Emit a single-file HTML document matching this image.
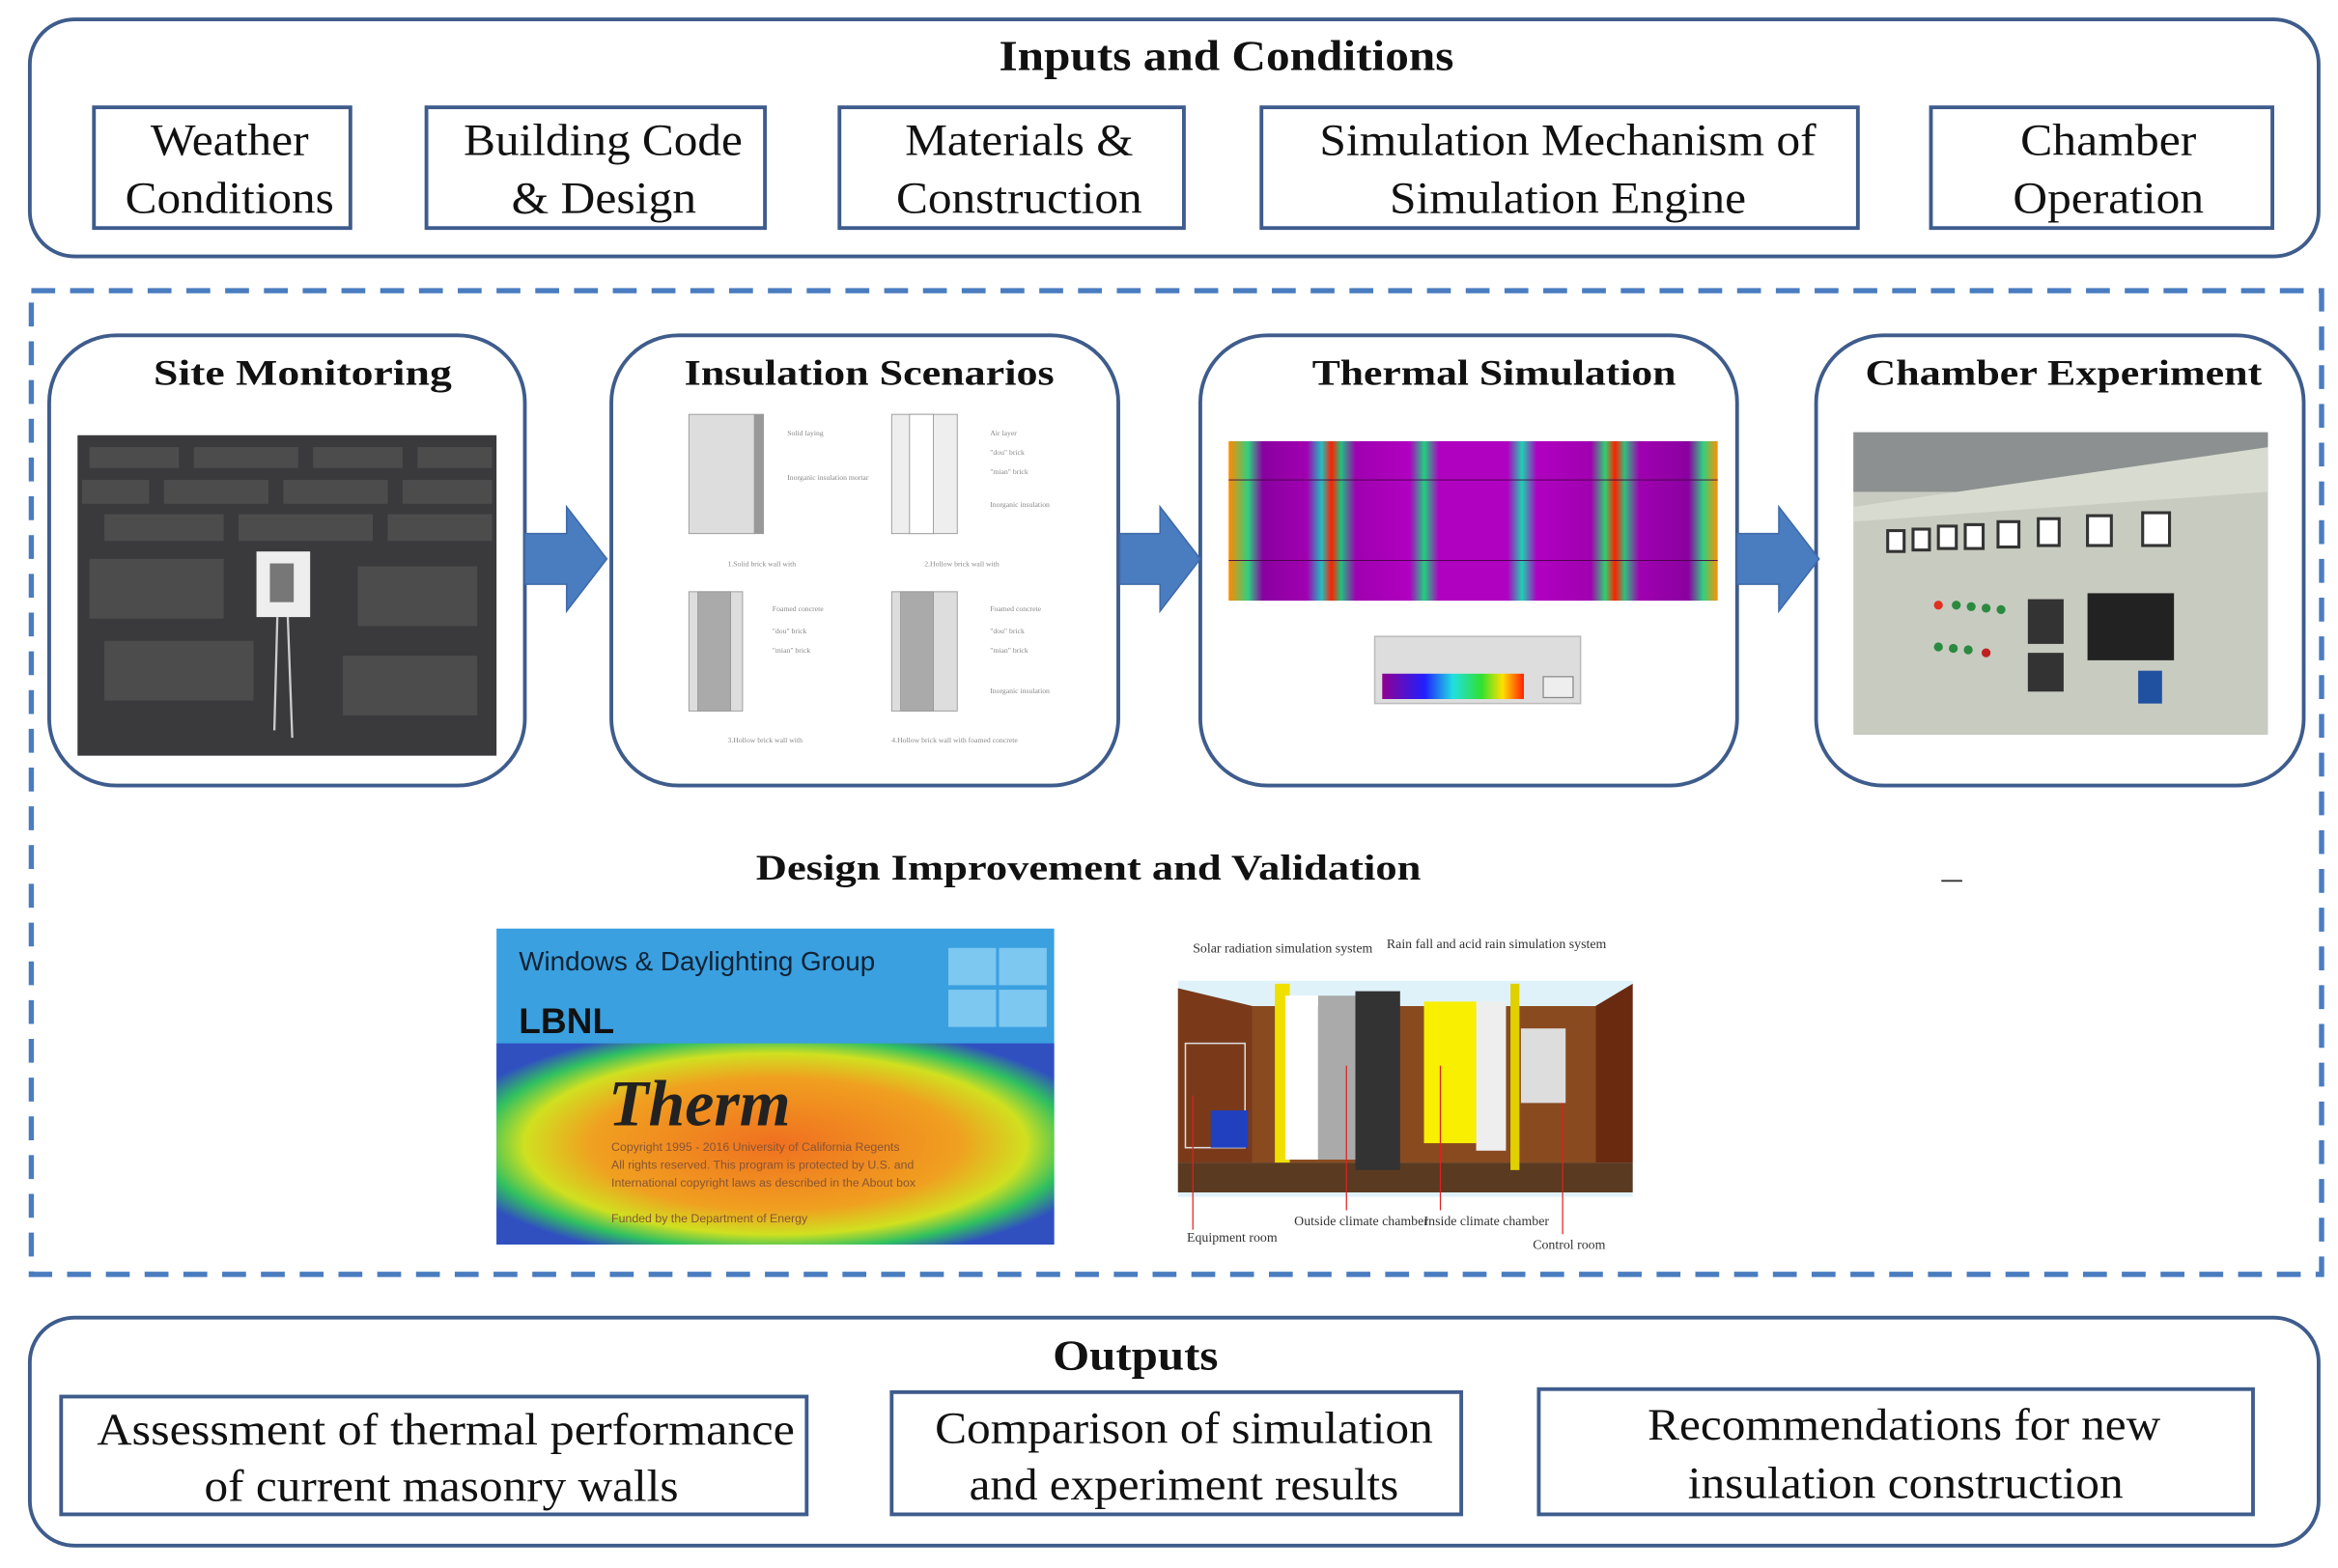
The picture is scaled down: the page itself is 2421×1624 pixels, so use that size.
<!DOCTYPE html>
<html><head><meta charset="utf-8"><style>
html,body{margin:0;padding:0;background:#fff;}
svg{display:block;}
.t{font-family:"Liberation Serif",serif;fill:#111;}
.b{font-weight:bold;}
</style></head><body>
<svg width="2421" height="1624" viewBox="0 0 1568 1052" preserveAspectRatio="none" xmlns="http://www.w3.org/2000/svg">
<defs>
<linearGradient id="th" x1="0" x2="1" y1="0" y2="0">
<stop offset="0" stop-color="#ff8a00"/><stop offset="0.04" stop-color="#30d080"/><stop offset="0.07" stop-color="#8a00a0"/>
<stop offset="0.16" stop-color="#a000b0"/><stop offset="0.19" stop-color="#20c0c0"/><stop offset="0.21" stop-color="#ff2000"/><stop offset="0.23" stop-color="#20c080"/><stop offset="0.26" stop-color="#a000b0"/>
<stop offset="0.37" stop-color="#b000c0"/><stop offset="0.40" stop-color="#20d080"/><stop offset="0.43" stop-color="#b000c0"/>
<stop offset="0.57" stop-color="#b000c0"/><stop offset="0.60" stop-color="#20d0b0"/><stop offset="0.63" stop-color="#b000c0"/>
<stop offset="0.74" stop-color="#a000b0"/><stop offset="0.77" stop-color="#30d070"/><stop offset="0.79" stop-color="#ff2000"/><stop offset="0.81" stop-color="#30c080"/><stop offset="0.84" stop-color="#a000b0"/>
<stop offset="0.94" stop-color="#8a00a0"/><stop offset="0.97" stop-color="#30d080"/><stop offset="1" stop-color="#ff9000"/>
</linearGradient>
<linearGradient id="lg" x1="0" x2="1"><stop offset="0" stop-color="#900090"/><stop offset="0.3" stop-color="#2020ff"/><stop offset="0.5" stop-color="#20e0e0"/><stop offset="0.7" stop-color="#30e030"/><stop offset="0.85" stop-color="#ffe000"/><stop offset="1" stop-color="#ff2000"/></linearGradient>
<radialGradient id="tg" cx="0.5" cy="0.5" r="0.6"><stop offset="0" stop-color="#f07020"/><stop offset="0.55" stop-color="#f0a020"/><stop offset="0.75" stop-color="#d0e020"/><stop offset="0.88" stop-color="#30c060"/><stop offset="1" stop-color="#3050c0"/></radialGradient>
</defs>
<rect x="20" y="13" width="1535" height="159" rx="30" fill="#fff" stroke="#3e5c8c" stroke-width="2.5"/>
<text class="t b" x="670" y="47" font-size="29" textLength="305" lengthAdjust="spacingAndGlyphs">Inputs and Conditions</text>
<g fill="#fff" stroke="#3e5c8c" stroke-width="2.5">
<rect x="63" y="72" width="172" height="81"/><rect x="286" y="72" width="227" height="81"/><rect x="563" y="72" width="231" height="81"/><rect x="846" y="72" width="400" height="81"/><rect x="1295" y="72" width="229" height="81"/>
</g>
<g class="t" font-size="30" lengthAdjust="spacingAndGlyphs">
<text x="101" y="104" textLength="106" lengthAdjust="spacingAndGlyphs">Weather</text><text x="84" y="143" textLength="140" lengthAdjust="spacingAndGlyphs">Conditions</text>
<text x="311" y="104" textLength="187" lengthAdjust="spacingAndGlyphs">Building Code</text><text x="343" y="143" textLength="124" lengthAdjust="spacingAndGlyphs">&amp; Design</text>
<text x="607" y="104" textLength="153" lengthAdjust="spacingAndGlyphs">Materials &amp;</text><text x="601" y="143" textLength="165" lengthAdjust="spacingAndGlyphs">Construction</text>
<text x="885" y="104" textLength="333" lengthAdjust="spacingAndGlyphs">Simulation Mechanism of</text><text x="932" y="143" textLength="239" lengthAdjust="spacingAndGlyphs">Simulation Engine</text>
<text x="1355" y="104" textLength="118" lengthAdjust="spacingAndGlyphs">Chamber</text><text x="1350" y="143" textLength="128" lengthAdjust="spacingAndGlyphs">Operation</text>
</g>
<rect x="21" y="195" width="1536" height="660" fill="none" stroke="#4a7cc0" stroke-width="3.5" stroke-dasharray="16,10"/>
<g fill="#fff" stroke="#3e5c8c" stroke-width="2.5">
<rect x="33" y="225" width="319" height="302" rx="45"/><rect x="410" y="225" width="340" height="302" rx="45"/><rect x="805" y="225" width="360" height="302" rx="45"/><rect x="1218" y="225" width="327" height="302" rx="45"/>
</g>
<g class="t b" font-size="24">
<text x="103" y="258" textLength="200" lengthAdjust="spacingAndGlyphs">Site  Monitoring</text><text x="459" y="258" textLength="248" lengthAdjust="spacingAndGlyphs">Insulation Scenarios</text><text x="880" y="258" textLength="244" lengthAdjust="spacingAndGlyphs">Thermal Simulation</text><text x="1251" y="258" textLength="266" lengthAdjust="spacingAndGlyphs">Chamber Experiment</text>
</g>
<g fill="#4a7cc0" stroke="#3e6aa8" stroke-width="1">
<path d="M352 358 H380 V340 L407 375 L380 410 V392 H352 Z"/>
<path d="M751 358 H778 V340 L805 375 L778 410 V392 H751 Z"/>
<path d="M1165 358 H1193 V340 L1220 375 L1193 410 V392 H1165 Z"/>
</g>
<rect x="52" y="292" width="281" height="215" fill="#3a3a3c"/>
<g fill="#555" opacity="0.7">
<rect x="60" y="300" width="60" height="14"/><rect x="130" y="300" width="70" height="14"/><rect x="210" y="300" width="60" height="14"/><rect x="280" y="300" width="50" height="14"/>
<rect x="55" y="322" width="45" height="16"/><rect x="110" y="322" width="70" height="16"/><rect x="190" y="322" width="70" height="16"/><rect x="270" y="322" width="60" height="16"/>
<rect x="70" y="345" width="80" height="18"/><rect x="160" y="345" width="90" height="18"/><rect x="260" y="345" width="70" height="18"/>
<rect x="60" y="375" width="90" height="40"/><rect x="240" y="380" width="80" height="40"/><rect x="70" y="430" width="100" height="40"/><rect x="230" y="440" width="90" height="40"/>
</g>
<rect x="172" y="370" width="36" height="44" fill="#eee"/><rect x="181" y="378" width="16" height="26" fill="#777"/>
<path d="M186 414 L184 490 M193 414 L196 495" stroke="#ccc" stroke-width="1.5" fill="none"/>
<g fill="#ddd" stroke="#999" stroke-width="0.6">
<rect x="462" y="278" width="44" height="80"/><rect x="506" y="278" width="6" height="80" fill="#999"/>
<rect x="598" y="278" width="44" height="80" fill="#eee"/><rect x="610" y="278" width="16" height="80" fill="#fff"/>
<rect x="462" y="397" width="36" height="80"/><rect x="468" y="397" width="22" height="80" fill="#aaa"/>
<rect x="598" y="397" width="44" height="80"/><rect x="604" y="397" width="22" height="80" fill="#aaa"/>
</g>
<g fill="#888" font-family="Liberation Serif,serif" font-size="5">
<text x="528" y="292">Solid laying</text><text x="528" y="322">Inorganic insulation mortar</text>
<text x="664" y="292">Air layer</text><text x="664" y="305">"dou" brick</text><text x="664" y="318">"mian" brick</text><text x="664" y="340">Inorganic insulation</text>
<text x="488" y="380">1.Solid brick wall with</text><text x="620" y="380">2.Hollow brick wall with</text>
<text x="518" y="410">Foamed concrete</text><text x="518" y="425">"dou" brick</text><text x="518" y="438">"mian" brick</text>
<text x="664" y="410">Foamed concrete</text><text x="664" y="425">"dou" brick</text><text x="664" y="438">"mian" brick</text><text x="664" y="465">Inorganic insulation</text>
<text x="488" y="498">3.Hollow brick wall with</text><text x="598" y="498">4.Hollow brick wall with foamed concrete</text>
</g>
<rect x="824" y="296" width="328" height="107" fill="url(#th)"/>
<line x1="824" y1="322" x2="1152" y2="322" stroke="#404" stroke-width="0.6"/><line x1="824" y1="376" x2="1152" y2="376" stroke="#404" stroke-width="0.6"/>
<rect x="922" y="427" width="138" height="45" fill="#ddd" stroke="#bbb"/>
<rect x="927" y="452" width="95" height="17" fill="url(#lg)"/>
<rect x="1035" y="454" width="20" height="14" fill="#eee" stroke="#888" stroke-width="0.8"/>
<rect x="1243" y="290" width="278" height="203" fill="#c8cbc0"/>
<rect x="1243" y="290" width="278" height="40" fill="#8c9090"/>
<path d="M1243 340 L1521 300 L1521 330 L1243 350 Z" fill="#d8dbd0"/>
<g fill="#fff" stroke="#333" stroke-width="2">
<rect x="1266" y="356" width="11" height="14"/><rect x="1283" y="355" width="11" height="14"/><rect x="1300" y="353" width="12" height="15"/><rect x="1318" y="352" width="12" height="16"/><rect x="1340" y="350" width="14" height="17"/><rect x="1367" y="348" width="14" height="18"/><rect x="1400" y="346" width="16" height="20"/><rect x="1437" y="344" width="18" height="22"/>
</g>
<rect x="1400" y="398" width="58" height="45" fill="#222"/><rect x="1360" y="402" width="24" height="30" fill="#333"/><rect x="1360" y="438" width="24" height="26" fill="#333"/>
<g fill="#2a8a40"><circle cx="1300" cy="406" r="3" fill="#e03020"/><circle cx="1312" cy="406" r="3"/><circle cx="1322" cy="407" r="3"/><circle cx="1332" cy="408" r="3"/><circle cx="1342" cy="409" r="3"/><circle cx="1300" cy="434" r="3"/><circle cx="1310" cy="435" r="3"/><circle cx="1320" cy="436" r="3"/><circle cx="1332" cy="438" r="3" fill="#c02020"/></g>
<rect x="1434" y="450" width="16" height="22" fill="#2050a0"/>
<text class="t b" x="507" y="590" font-size="24" textLength="446" lengthAdjust="spacingAndGlyphs">Design  Improvement and Validation</text>
<line x1="1302" y1="591" x2="1316" y2="591" stroke="#333" stroke-width="1.2"/>
<rect x="333" y="623" width="374" height="212" fill="#3aa0e0"/>
<rect x="333" y="700" width="374" height="135" fill="url(#tg)"/>
<rect x="636" y="636" width="32" height="25" fill="#7cc8f0"/><rect x="670" y="636" width="32" height="25" fill="#7cc8f0"/><rect x="636" y="664" width="32" height="25" fill="#7cc8f0"/><rect x="670" y="664" width="32" height="25" fill="#7cc8f0"/>
<text x="348" y="651" font-family="Liberation Sans,sans-serif" font-size="18" fill="#123">Windows &amp; Daylighting Group</text>
<text x="348" y="693" font-family="Liberation Sans,sans-serif" font-weight="bold" font-size="24" fill="#111">LBNL</text>
<text x="408" y="755" font-family="Liberation Serif,serif" font-style="italic" font-weight="bold" font-size="44" fill="#222">Therm</text>
<g font-family="Liberation Sans,sans-serif" font-size="8" fill="#853"><text x="410" y="772">Copyright 1995 - 2016 University of California Regents</text><text x="410" y="784">All rights reserved. This program is protected by U.S. and</text><text x="410" y="796">International copyright laws as described in the About box</text><text x="410" y="820">Funded by the Department of Energy</text></g>
<rect x="790" y="658" width="305" height="145" fill="#dff2fa"/>
<path d="M790 663 L840 675 V780 H790 Z" fill="#7a3a1a"/><path d="M1095 660 L1070 675 V780 H1095 Z" fill="#6a2a10"/>
<rect x="840" y="675" width="230" height="105" fill="#8a4a20"/>
<rect x="790" y="780" width="305" height="20" fill="#5a3a20"/>
<rect x="855" y="660" width="10" height="120" fill="#f0e000"/><rect x="862" y="668" width="22" height="110" fill="#fff"/><rect x="884" y="668" width="25" height="110" fill="#aaa"/>
<rect x="909" y="665" width="30" height="120" fill="#333"/><rect x="955" y="672" width="35" height="95" fill="#f8f000"/><rect x="990" y="672" width="20" height="100" fill="#eee"/><rect x="1013" y="660" width="6" height="125" fill="#e0d000"/>
<rect x="1020" y="690" width="30" height="50" fill="#ddd"/>
<rect x="795" y="700" width="40" height="70" fill="none" stroke="#ddd"/><rect x="812" y="745" width="25" height="25" fill="#2040c0"/>
<g stroke="#e02020" stroke-width="0.8"><line x1="800" y1="735" x2="800" y2="825"/><line x1="903" y1="715" x2="903" y2="812"/><line x1="966" y1="715" x2="966" y2="812"/><line x1="1048" y1="740" x2="1048" y2="828"/></g>
<g font-family="Liberation Serif,serif" font-size="9" fill="#333"><text x="800" y="639">Solar radiation simulation system</text><text x="930" y="636">Rain fall and acid rain simulation system</text><text x="796" y="833">Equipment room</text><text x="868" y="822">Outside climate chamber</text><text x="955" y="822">Inside climate chamber</text><text x="1028" y="838">Control room</text></g>
<rect x="20" y="884" width="1535" height="153" rx="30" fill="#fff" stroke="#3e5c8c" stroke-width="2.5"/>
<text class="t b" x="706" y="919" font-size="29" textLength="111" lengthAdjust="spacingAndGlyphs">Outputs</text>
<g fill="#fff" stroke="#3e5c8c" stroke-width="2.5"><rect x="41" y="937" width="500" height="79"/><rect x="598" y="934" width="382" height="82"/><rect x="1032" y="932" width="479" height="84"/></g>
<g class="t" font-size="30">
<text x="65" y="969" textLength="468" lengthAdjust="spacingAndGlyphs">Assessment of  thermal performance</text><text x="137" y="1007" textLength="318" lengthAdjust="spacingAndGlyphs">of current masonry walls</text>
<text x="627" y="968" textLength="334" lengthAdjust="spacingAndGlyphs">Comparison of simulation</text><text x="650" y="1006" textLength="288" lengthAdjust="spacingAndGlyphs">and experiment results</text>
<text x="1105" y="966" textLength="344" lengthAdjust="spacingAndGlyphs">Recommendations for new</text><text x="1132" y="1005" textLength="292" lengthAdjust="spacingAndGlyphs">insulation construction</text>
</g>
</svg>
</body></html>
